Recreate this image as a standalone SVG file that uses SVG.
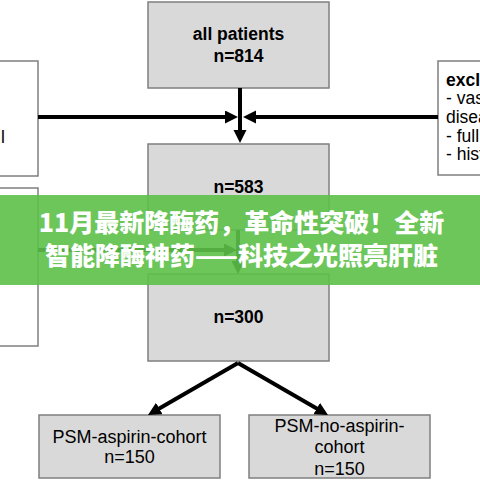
<svg xmlns="http://www.w3.org/2000/svg" width="480" height="480" viewBox="0 0 480 480">
<style>
.box{fill:#d9d9d9;stroke:#7f7f7f;stroke-width:1.5}
.ex{fill:#ffffff;stroke:#7f7f7f;stroke-width:1.5}
.t{font-family:"Liberation Sans",Arial,sans-serif;fill:#000}
.b{font-weight:bold;font-size:17.5px}
.r{font-size:18px}
.e{font-size:17.5px}
.c{stroke:#000;stroke-width:4;fill:none}
.ban{font-family:"Noto Sans CJK SC","Noto Sans",sans-serif;font-weight:900;font-size:25px;fill:#ffffff}
</style>
<defs>
<marker id="ah" markerUnits="userSpaceOnUse" markerWidth="14" markerHeight="14" refX="4" refY="6.5" orient="auto">
<path d="M0,0 L13,6.5 L0,13 z" fill="#000"/>
</marker>
</defs>
<rect width="480" height="480" fill="#ffffff"/>
<g id="left-excl-1"><rect class="ex" x="-5" y="61" width="43" height="115"/><text class="t e" x="1" y="143">l</text></g>
<g id="left-excl-2"><rect class="ex" x="-5" y="188" width="43" height="158"/></g>
<g id="right-excl"><rect class="ex" x="438" y="61" width="50" height="114"/>
<text class="t e" x="446"><tspan x="446" y="86" font-weight="bold">exclu</tspan><tspan x="446" y="104">- vas</tspan><tspan x="446" y="123">disea</tspan><tspan x="446" y="142">- full</tspan><tspan x="446" y="160">- hist</tspan></text></g>
<g id="all-patients"><rect class="box" x="148" y="2" width="181" height="86"/>
<text class="t b" text-anchor="middle" x="238.5" y="40">all patients</text><text class="t b" text-anchor="middle" x="238.5" y="62">n=814</text></g>
<g id="n583"><rect class="box" x="148" y="144" width="181" height="86"/>
<text class="t b" text-anchor="middle" x="238.5" y="193">n=583</text></g>
<g id="n300"><rect class="box" x="148" y="274" width="181" height="87"/>
<text class="t b" text-anchor="middle" x="238.5" y="323">n=300</text></g>
<g id="psm-aspirin"><rect class="box" x="39" y="415" width="181" height="63"/>
<text class="t r" text-anchor="middle" x="129.5" y="443">PSM-aspirin-cohort</text><text class="t r" text-anchor="middle" x="129.5" y="463">n=150</text></g>
<g id="psm-no-aspirin"><rect class="box" x="249" y="415" width="181" height="63"/>
<text class="t r" text-anchor="middle" x="339.5" y="432">PSM-no-aspirin-</text><text class="t r" text-anchor="middle" x="339.5" y="453">cohort</text><text class="t r" text-anchor="middle" x="339.5" y="475">n=150</text></g>
<g id="connectors">
<line class="c" x1="38" y1="117" x2="229" y2="117" marker-end="url(#ah)"/>
<line class="c" x1="438" y1="117" x2="252" y2="117" marker-end="url(#ah)"/>
<line class="c" x1="240" y1="88" x2="240" y2="134" marker-end="url(#ah)"/>
<line class="c" x1="38" y1="250" x2="228" y2="250" marker-end="url(#ah)"/>
<line class="c" x1="238" y1="230" x2="238" y2="265" marker-end="url(#ah)"/>
<line class="c" x1="238" y1="363" x2="155.8" y2="410.5" marker-end="url(#ah)"/>
<line class="c" x1="238" y1="363" x2="320.2" y2="410.5" marker-end="url(#ah)"/>
</g>
<g id="banner">
<rect x="0" y="195" width="480" height="90" fill="rgb(92,192,72)" fill-opacity="0.9"/>
<text class="ban" text-anchor="middle" x="241.5" y="232">11月最新降酶药，革命性突破！全新</text>
<text class="ban" text-anchor="middle" x="241.5" y="265">智能降酶神药——科技之光照亮肝脏</text>
</g>
</svg>
